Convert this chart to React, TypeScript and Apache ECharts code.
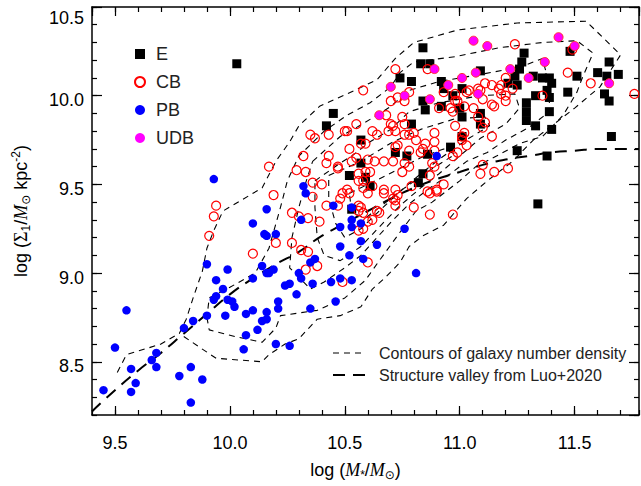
import React, { useEffect, useRef } from 'react';
import * as echarts from 'echarts';

const X_MIN = 9.4;
const X_MAX = 11.78;
const Y_MIN = 8.2;
const Y_MAX = 10.5;

const E_POINTS: number[][] = [
  [10.03,10.18],[10.84,10.27],[10.83,10.18],[10.87,10.18],[10.74,10.10],[10.79,10.08],[10.45,9.90],[10.42,9.83],
  [10.57,9.75],[10.57,9.62],[10.52,9.55],[10.59,9.54],[10.61,9.49],[10.53,9.36],[10.77,9.66],[10.86,9.67],
  [10.84,9.56],[10.82,9.51],[10.96,9.71],[10.92,9.94],[10.92,10.08],[10.93,10.04],[10.97,10.00],[11.01,10.04],
  [11.00,9.93],[11.01,9.88],[11.09,9.90],[11.09,9.84],[11.01,9.77],[11.09,10.14],[10.85,9.92],[10.79,9.84],
  [10.84,9.97],[10.72,9.68],[11.25,9.69],[11.38,9.66],[11.40,9.81],[11.33,9.83],[11.39,9.91],[11.29,9.91],
  [11.29,9.86],[11.29,9.96],[11.33,10.00],[11.39,9.99],[11.38,10.03],[11.40,10.07],[11.39,10.10],[11.36,10.10],
  [11.32,10.11],[11.25,10.06],[11.21,10.07],[11.24,10.11],[11.26,10.15],[11.27,10.19],[11.28,10.24],[11.47,10.02],
  [11.51,10.11],[11.48,10.25],[11.60,10.13],[11.65,10.19],[11.64,10.11],[11.69,10.12],[11.63,10.01],[11.65,9.97],
  [11.66,9.77],[11.34,9.39]
];

const CB_POINTS: number[][] = [
  [9.91,9.21],[9.93,9.32],[9.94,9.38],[10.17,9.60],[10.19,9.44],[10.35,9.78],[10.37,9.76],[10.32,9.66],
  [10.29,9.58],[10.33,9.57],[10.36,9.51],[10.36,9.43],[10.27,9.34],[10.30,9.32],[10.34,9.31],[10.39,9.29],
  [10.20,9.17],[10.27,9.17],[10.10,9.11],[10.31,9.13],[10.34,9.12],[10.33,9.02],[10.38,9.04],[10.40,9.50],
  [10.42,9.38],[10.48,9.42],[10.47,9.38],[10.49,9.45],[10.51,9.47],[10.52,9.45],[10.58,9.52],[10.58,9.48],
  [10.60,9.45],[10.62,9.49],[10.56,9.38],[10.57,9.37],[10.56,9.35],[10.58,9.34],[10.62,9.30],[10.60,9.29],
  [10.56,9.24],[10.58,9.25],[10.64,9.35],[10.65,9.34],[10.67,9.47],[10.67,9.45],[10.72,9.47],[10.73,9.44],
  [10.72,9.41],[10.71,9.42],[10.79,9.49],[10.80,9.37],[10.60,9.06],[10.49,8.95],[10.83,9.68],[10.89,9.69],
  [10.88,9.62],[10.89,9.60],[10.97,9.66],[11.10,9.61],[11.09,9.56],[11.15,9.57],[11.21,9.59],[10.87,9.55],
  [10.93,9.50],[10.90,9.47],[10.87,9.45],[10.87,9.33],[10.97,9.33],[11.24,10.29],[11.47,10.13],[11.57,10.07],
  [11.76,10.01],[11.36,10.00],[11.49,10.26],[10.72,10.15],[10.86,10.15],[10.58,10.03],[10.70,9.97],[10.73,9.99],
  [10.78,10.02],[10.68,9.89],[10.55,9.84],[10.50,9.80],[10.51,9.80],[10.43,9.78],[10.62,9.80],[10.64,9.78],
  [10.69,9.80],[10.71,9.83],[10.75,9.88],[10.76,9.84],[10.80,9.79],[10.89,9.79],[10.89,9.74],[10.85,9.73],
  [10.84,9.70],[10.72,9.71],[10.76,9.62],[10.78,9.60],[10.71,9.63],[10.67,9.63],[10.63,9.63],[10.60,9.64],
  [10.55,9.65],[10.53,9.63],[10.52,9.70],[10.47,9.60],[10.43,9.66],[10.56,9.56],[10.59,9.57],[10.61,9.57],
  [10.75,9.57],[10.86,9.46],[10.90,9.46],[10.72,9.38],[11.10,9.82],[11.14,9.77],[11.06,9.93],[11.03,10.02],
  [11.08,10.04],[11.11,10.07],[11.14,10.06],[11.18,10.06],[11.17,10.04],[11.18,10.01],[11.20,10.00],[11.14,9.95],
  [11.15,9.94],[11.10,9.98],[11.20,10.10],[10.98,10.01],[10.98,9.97],[10.98,9.83],[11.02,9.79],[11.03,9.72],
  [11.23,10.04],[11.20,9.97],[10.93,10.02],[10.99,9.97],[11.02,9.94],[10.91,9.93],[10.96,9.93],[11.08,9.88],
  [11.11,9.85],[10.99,9.68],[10.42,9.62],[10.47,9.59],[10.57,9.73],[10.59,9.73],[10.70,9.84],[10.72,9.80],
  [10.76,9.78],[10.73,9.72],[10.78,9.78],[10.76,9.97],[10.78,9.69],[11.01,9.77],[11.01,9.75],[10.56,9.52],
  [11.09,10.03],[11.04,10.03],[10.97,9.91],[10.81,9.75]
];

const PB_POINTS: number[][] = [
  [9.45,8.34],[9.50,8.58],[9.55,8.79],[9.57,8.46],[9.57,8.33],[9.59,8.38],[9.66,8.51],[9.68,8.55],
  [9.68,8.47],[9.78,8.42],[9.80,8.69],[9.83,8.47],[9.84,8.73],[9.83,8.27],[9.88,8.40],[9.90,9.05],
  [9.90,8.76],[9.94,8.96],[9.93,8.85],[9.94,8.87],[9.97,8.91],[9.98,8.76],[9.99,9.02],[9.99,8.85],
  [10.01,8.84],[10.02,8.81],[10.06,8.57],[10.07,8.77],[10.07,8.65],[10.10,8.97],[10.10,8.79],[10.12,8.68],
  [10.14,9.04],[10.14,8.73],[10.16,8.74],[10.16,8.78],[10.16,9.00],[10.17,9.00],[10.19,9.02],[10.21,8.84],
  [10.21,8.80],[10.20,8.60],[10.24,8.93],[10.26,8.94],[10.26,8.59],[10.29,8.88],[10.30,9.00],[10.31,8.97],
  [10.36,8.94],[10.35,8.80],[10.35,9.06],[10.37,9.08],[9.93,9.53],[10.16,9.36],[10.10,9.28],[10.15,9.22],
  [10.16,9.21],[10.20,9.22],[10.32,9.49],[10.33,9.45],[10.31,9.30],[10.45,9.38],[10.53,9.37],[10.53,9.30],
  [10.53,9.26],[10.57,9.28],[10.57,9.18],[10.64,9.16],[10.76,9.25],[10.48,9.26],[10.48,9.15],[10.52,9.10],
  [10.58,9.08],[10.53,8.96],[10.48,8.97],[10.44,8.95],[10.46,8.84],[10.81,9.00],[10.90,9.66]
];

const UDB_POINTS: number[][] = [
  [11.06,10.31],[11.12,10.28],[11.43,10.33],[11.50,10.28],[11.37,10.19],[11.22,10.15],[11.30,10.10],[11.07,10.13],
  [11.01,10.10],[10.89,10.15],[10.95,10.06],[10.87,9.98],[10.76,10.00],[10.70,10.05],[10.65,9.89],[11.65,10.07],
  [11.08,10.01]
];

const VALLEY: number[][] = [
  [9.40,8.22],[9.50,8.34],[9.60,8.45],[9.70,8.55],[9.80,8.66],[9.90,8.77],[10.00,8.88],[10.10,8.97],
  [10.20,9.05],[10.30,9.12],[10.40,9.21],[10.50,9.28],[10.60,9.35],[10.70,9.42],[10.80,9.48],[10.90,9.53],
  [11.00,9.57],[11.10,9.61],[11.20,9.64],[11.30,9.66],[11.40,9.68],[11.50,9.69],[11.60,9.70],[11.78,9.70]
];

const CONTOUR_1: number[][] = [
  [9.51,8.44],[9.55,8.54],[9.70,8.60],[9.78,8.66],[9.81,8.74],[9.84,8.86],[9.88,9.01],[9.90,9.14],
  [9.93,9.24],[9.97,9.35],[10.14,9.48],[10.20,9.63],[10.26,9.74],[10.30,9.83],[10.39,9.94],[10.51,10.01],
  [10.64,10.09],[10.72,10.21],[10.80,10.30],[10.99,10.37],[11.25,10.41],[11.55,10.42],[11.70,10.23],[11.61,10.05],
  [11.50,9.93],[11.41,9.84],[11.32,9.75],[11.23,9.63],[11.12,9.52],[11.03,9.42],[10.93,9.27],[10.84,9.21],
  [10.78,9.15],[10.74,9.06],[10.68,8.98],[10.62,8.91],[10.57,8.81],[10.48,8.76],[10.38,8.74],[10.30,8.63],
  [10.24,8.60],[10.17,8.54],[10.14,8.50],[9.94,8.52],[9.87,8.58],[9.78,8.66]
];
const CONTOUR_2: number[][] = [
  [9.90,8.75],[9.91,8.68],[10.03,8.64],[10.14,8.61],[10.20,8.69],[10.22,8.76],[10.38,8.79],[10.50,8.86],
  [10.59,8.96],[10.65,9.07],[10.74,9.23],[10.81,9.35],[10.88,9.40],[10.94,9.46],[11.00,9.52],[11.07,9.60],
  [11.16,9.66],[11.26,9.73],[11.36,9.77],[11.45,9.89],[11.51,10.02],[11.53,10.09],[11.58,10.24],[11.51,10.31],
  [11.36,10.30],[11.17,10.27],[10.98,10.22],[10.80,10.19],[10.74,10.13],[10.70,10.05],[10.61,9.96],[10.51,9.89],
  [10.41,9.80],[10.30,9.66],[10.25,9.52],[10.22,9.37],[10.17,9.14],[10.11,9.00],[10.00,8.92],[9.91,8.86],
  [9.90,8.75]
];
const CONTOUR_3: number[][] = [
  [10.36,9.63],[10.42,9.70],[10.48,9.77],[10.55,9.82],[10.64,9.89],[10.70,9.94],[10.78,10.03],[10.91,10.08],
  [11.09,10.12],[11.26,10.16],[11.36,10.21],[11.38,10.11],[11.39,9.98],[11.39,9.91],[11.30,9.82],[11.20,9.75],
  [11.12,9.68],[11.03,9.63],[10.96,9.56],[10.87,9.48],[10.78,9.39],[10.71,9.30],[10.64,9.20],[10.57,9.10],
  [10.50,9.03],[10.41,8.95],[10.35,8.91],[10.26,9.03],[10.27,9.20],[10.30,9.37],[10.33,9.51],[10.36,9.63]
];
const CONTOUR_4: number[][] = [
  [10.37,9.52],[10.48,9.62],[10.53,9.66],[10.61,9.74],[10.70,9.81],[10.78,9.91],[10.91,9.96],[11.09,10.00],
  [11.24,10.01],[11.26,9.93],[11.20,9.84],[11.09,9.76],[11.00,9.66],[10.91,9.56],[10.83,9.48],[10.74,9.38],
  [10.65,9.26],[10.57,9.15],[10.48,9.07],[10.41,9.10],[10.38,9.20],[10.37,9.37],[10.37,9.52]
];
const CONTOUR_5: number[][] = [
  [10.43,9.55],[10.57,9.63],[10.71,9.74],[10.83,9.81],[10.98,9.87],[11.11,9.88],[11.13,9.83],[11.04,9.76],
  [10.93,9.66],[10.83,9.56],[10.74,9.46],[10.65,9.35],[10.57,9.25],[10.50,9.20],[10.46,9.28],[10.43,9.42],
  [10.43,9.55]
];
const CONTOUR_6: number[][] = [
  [10.52,9.45],[10.68,9.55],[10.83,9.65],[10.93,9.70],[10.98,9.67],[10.87,9.58],[10.76,9.48],[10.67,9.39],
  [10.59,9.31],[10.53,9.34],[10.52,9.45]
];
const CONTOURS = [CONTOUR_1, CONTOUR_2, CONTOUR_3, CONTOUR_4, CONTOUR_5, CONTOUR_6];

const SERIES_NAMES = ['E', 'CB', 'PB', 'UDB'];
const CONTOUR_LABEL = 'Contours of galaxy number density';
const VALLEY_LABEL = 'Structure valley from Luo+2020';

const FONT = 'Liberation Sans';

export default function App() {
  const ref = useRef<HTMLDivElement>(null);
  useEffect(() => {
    document.body.style.margin = '0';
    const chart = echarts.init(ref.current as HTMLDivElement, null, { renderer: 'svg' });
    const line = { color: '#000', width: 1.5 };
    const majorTick = { show: true, inside: true, length: 9, lineStyle: { color: '#000', width: 1.2 } };
    const minorTick = { show: true, inside: true, length: 5, lineStyle: { color: '#000', width: 1.2 } };
    const xMajor = (pos: string, labels: boolean, extra: any = {}) => ({
      type: 'value', min: X_MIN, max: X_MAX, minInterval: 0.5, maxInterval: 0.5, position: pos,
      axisLine: { show: true, onZero: false, lineStyle: line }, axisTick: majorTick, splitLine: { show: false },
      axisLabel: { show: labels, margin: 19, fontSize: 18, color: '#000', fontFamily: FONT,
        showMinLabel: false, showMaxLabel: false, formatter: (v: number) => v.toFixed(1) },
      ...extra,
    });
    const xMinor = (pos: string) => ({
      type: 'value', min: X_MIN, max: X_MAX, interval: 0.1, position: pos,
      axisLine: { show: false, onZero: false }, axisTick: minorTick, splitLine: { show: false }, axisLabel: { show: false },
    });
    const yMajor = (pos: string, labels: boolean, extra: any = {}) => ({
      type: 'value', min: Y_MIN, max: Y_MAX, minInterval: 0.5, maxInterval: 0.5, position: pos,
      axisLine: { show: true, onZero: false, lineStyle: line }, axisTick: { ...majorTick, length: 10 }, splitLine: { show: false },
      axisLabel: { show: labels, margin: 8, showMinLabel: false, showMaxLabel: true,
        formatter: (v: number) => (Math.abs(v - 10.5) < 1e-6 ? '{t|' + v.toFixed(1) + '}' : '{n|' + v.toFixed(1) + '}'),
        rich: {
          n: { fontSize: 18, color: '#000', fontFamily: FONT, padding: [9, 0, 0, 0] },
          t: { fontSize: 18, color: '#000', fontFamily: FONT, padding: [21, 0, 0, 0] },
        } },
      ...extra,
    });
    const yMinor = (pos: string) => ({
      type: 'value', min: Y_MIN, max: Y_MAX, interval: 0.1, position: pos,
      axisLine: { show: false, onZero: false }, axisTick: minorTick, splitLine: { show: false }, axisLabel: { show: false },
    });
    const nameRich = {
      n: { fontSize: 18, color: '#000', fontFamily: FONT, lineHeight: 22 },
      i: { fontSize: 18, color: '#000', fontFamily: 'Liberation Serif', fontStyle: 'italic', lineHeight: 22 },
      g: { fontSize: 18, color: '#000', fontFamily: 'Liberation Serif', lineHeight: 22 },
      s: { fontSize: 12, color: '#000', fontFamily: FONT, lineHeight: 12, verticalAlign: 'bottom' },
      o: { fontSize: 12, color: '#000', fontFamily: 'DejaVu Sans', lineHeight: 12, verticalAlign: 'bottom' },
      p: { fontSize: 12, color: '#000', fontFamily: FONT, lineHeight: 12, verticalAlign: 'top' },
    };

    const contourSeries = CONTOURS.map((c, i) => ({
      name: 'contour' + i, type: 'line', data: c, symbol: 'none', showSymbol: false, silent: true,
      xAxisIndex: 0, yAxisIndex: 0, z: 2,
      lineStyle: { color: '#000', width: 1.1, type: [6, 5] },
    }));

    const option: any = {
      animation: false,
      textStyle: { fontFamily: FONT },
      grid: { left: 92, right: 2, top: 7, bottom: 68, containLabel: false },
      xAxis: [
        xMajor('bottom', true, {
          name: '{n|log (}{i|M}{s|*}{n|/}{i|M}{o|⊙}{n|)}', nameLocation: 'middle', nameGap: 44,
          nameTextStyle: { rich: nameRich, padding: [0, 20, 0, 0] },
        }),
        xMinor('bottom'),
        xMajor('top', false),
        xMinor('top'),
      ],
      yAxis: [
        yMajor('left', true, {
          name: '{n|log (}{g|Σ}{s|1}{n|/}{i|M}{o|⊙}{n| kpc}{p|-2}{n|)}', nameLocation: 'middle', nameGap: 60,
          nameRotate: 90, nameTextStyle: { rich: nameRich },
        }),
        yMinor('left'),
        yMajor('right', false),
        yMinor('right'),
      ],
      legend: {
        data: [
          { name: 'E', icon: 'rect' },
          { name: 'CB', icon: 'circle' },
          { name: 'PB', icon: 'circle' },
          { name: 'UDB', icon: 'circle', itemStyle: { borderWidth: 0 } },
        ],
        orient: 'vertical', left: 129, top: 40, itemWidth: 10, itemHeight: 10, itemGap: 10,
        textStyle: { fontSize: 18, color: '#222', fontFamily: FONT, padding: [0, 0, 0, 6] },
        selectedMode: false,
      },
      graphic: [
        { type: 'line', shape: { x1: 333, y1: 353, x2: 366, y2: 353 }, style: { stroke: '#000', lineWidth: 1.1, lineDash: [6, 5] } },
        { type: 'text', x: 379, y: 353, style: { text: CONTOUR_LABEL, fontSize: 16, fontFamily: FONT, fill: '#222', verticalAlign: 'middle' } },
        { type: 'line', shape: { x1: 333, y1: 375, x2: 366, y2: 375 }, style: { stroke: '#000', lineWidth: 2, lineDash: [12, 8] } },
        { type: 'text', x: 379, y: 375, style: { text: VALLEY_LABEL, fontSize: 16, fontFamily: FONT, fill: '#222', verticalAlign: 'middle' } },
      ],
      series: [
        ...contourSeries,
        {
          name: 'valley', type: 'line', data: VALLEY, symbol: 'none', showSymbol: false, silent: true, smooth: true, z: 2,
          lineStyle: { color: '#000', width: 2, type: [12, 8] },
        },
        { name: SERIES_NAMES[0], type: 'scatter', data: E_POINTS, symbol: 'rect', symbolSize: 9, z: 3,
          itemStyle: { color: '#000', opacity: 1 } },
        { name: SERIES_NAMES[1], type: 'scatter', data: CB_POINTS, symbol: 'circle', symbolSize: 9, z: 4,
          itemStyle: { color: 'rgba(0,0,0,0)', borderColor: '#ff0000', borderWidth: 1.2, opacity: 1 } },
        { name: SERIES_NAMES[2], type: 'scatter', data: PB_POINTS, symbol: 'circle', symbolSize: 8.5, z: 5,
          itemStyle: { color: '#0000ff', opacity: 1 } },
        { name: SERIES_NAMES[3], type: 'scatter', data: UDB_POINTS, symbol: 'circle', symbolSize: 9, z: 6,
          itemStyle: { color: '#ff00ff', borderColor: '#ff3030', borderWidth: 1, opacity: 1 } },
      ],
    };
    chart.setOption(option);
    return () => chart.dispose();
  }, []);
  return <div ref={ref} style={{ width: 641, height: 486 }} />;
}
